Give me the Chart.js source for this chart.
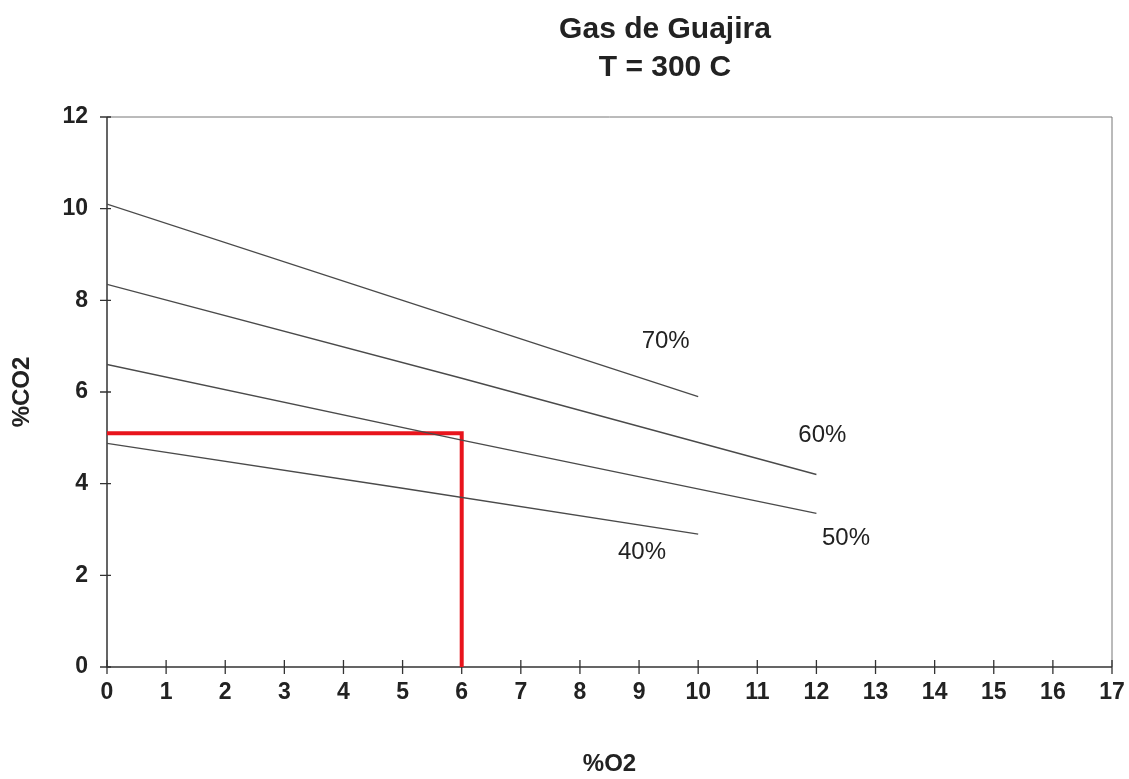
<!DOCTYPE html>
<html>
<head>
<meta charset="utf-8">
<script src="https://cdn.jsdelivr.net/npm/chart.js@4/dist/chart.umd.min.js"></script>
<style>
  body { margin: 0; background: #fff; }
  #wrap { width: 1129px; height: 779px; }
</style>
</head>
<body>
<div id="wrap"><canvas id="gasChart"></canvas></div>
<script>
// values (%O2 -> %CO2)
const o2_70 = [0, 5, 10];
const co2_70 = [10.1, 8.0, 5.9];
const o2_60 = [0, 6, 12];
const co2_60 = [8.35, 6.3, 4.2];
const o2_50 = [0, 6, 12];
const co2_50 = [6.6, 4.95, 3.35];
const o2_40 = [0, 5, 10];
const co2_40 = [4.88, 3.9, 2.9];

// red reading guide
const guideO2 = [0, 6, 6];
const guideCO2 = [5.1, 5.1, 0];

// curve labels and where they sit (data units)
const curveLabels = ['70%', '60%', '50%', '40%'];
const labelO2 = [9.45, 12.1, 12.5, 9.05];
const labelCO2 = [7.1, 5.05, 2.8, 2.5];

const xTicks = [0, 1, 2, 3, 4, 5, 6, 7, 8, 9, 10, 11, 12, 13, 14, 15, 16, 17];
const yTicks = [0, 2, 4, 6, 8, 10, 12];

const FONT = '"Liberation Sans", Arial, sans-serif';

const pts = (xs, ys) => xs.map((x, i) => ({ x: x, y: ys[i] }));

const curve = (xs, ys) => ({
  data: pts(xs, ys),
  showLine: true,
  borderColor: '#4a4a4a',
  borderWidth: 1.3,
  pointRadius: 0,
  tension: 0
});

// frame, crossing tick marks, title and curve labels
const decor = {
  id: 'decor',
  beforeDatasetsDraw(chart) {
    const { ctx, chartArea: a, scales: { x, y } } = chart;
    ctx.save();
    ctx.strokeStyle = '#777';
    ctx.lineWidth = 1;
    ctx.beginPath();
    ctx.moveTo(a.left, a.top); ctx.lineTo(a.right, a.top); ctx.lineTo(a.right, a.bottom);
    ctx.stroke();
    ctx.strokeStyle = '#333';
    ctx.lineWidth = 1.5;
    ctx.beginPath();
    ctx.moveTo(a.left, a.top); ctx.lineTo(a.left, a.bottom); ctx.lineTo(a.right, a.bottom);
    ctx.stroke();
    ctx.lineWidth = 1.3;
    ctx.beginPath();
    xTicks.forEach(v => {
      const px = x.getPixelForValue(v);
      ctx.moveTo(px, a.bottom - 7); ctx.lineTo(px, a.bottom + 7);
    });
    yTicks.forEach(v => {
      const py = y.getPixelForValue(v);
      ctx.moveTo(a.left - 7, py); ctx.lineTo(a.left + 4, py);
    });
    ctx.stroke();
    ctx.restore();
  },
  afterDraw(chart) {
    const { ctx, scales: { x, y } } = chart;
    ctx.save();
    ctx.fillStyle = '#222';
    ctx.textAlign = 'center';
    ctx.textBaseline = 'middle';
    ctx.font = 'bold 30px ' + FONT;
    ctx.fillText('Gas de Guajira', 665, 30);
    ctx.fillText('T = 300 C', 665, 68);
    ctx.font = '24px ' + FONT;
    curveLabels.forEach((t, i) => {
      ctx.fillText(t, x.getPixelForValue(labelO2[i]), y.getPixelForValue(labelCO2[i]));
    });
    ctx.restore();
  }
};

new Chart(document.getElementById('gasChart'), {
  type: 'scatter',
  data: {
    datasets: [
      curve(o2_70, co2_70),
      curve(o2_60, co2_60),
      curve(o2_50, co2_50),
      curve(o2_40, co2_40),
      {
        data: pts(guideO2, guideCO2),
        showLine: true,
        borderColor: '#e8141c',
        borderWidth: 4,
        pointRadius: 0,
        tension: 0
      }
    ]
  },
  options: {
    responsive: true,
    maintainAspectRatio: false,
    animation: false,
    layout: { padding: { top: 117, right: 17 } },
    plugins: {
      legend: { display: false },
      tooltip: { enabled: false }
    },
    scales: {
      x: {
        type: 'linear',
        min: 0, max: 17,
        grid: { display: false, drawTicks: false },
        border: { display: false },
        afterBuildTicks: s => { s.ticks = xTicks.map(v => ({ value: v })); },
        afterFit: s => { s.height = 112; s.paddingRight = 0; s.paddingLeft = 0; },
        ticks: {
          color: '#222',
          padding: 12,
          maxRotation: 0,
          autoSkip: false,
          font: { family: FONT, size: 23, weight: 'bold' }
        },
        title: {
          display: true,
          text: '%O2',
          color: '#222',
          padding: { top: 0, bottom: 0 },
          font: { family: FONT, size: 24, weight: 'bold' }
        }
      },
      y: {
        type: 'linear',
        min: 0, max: 12,
        grid: { display: false, drawTicks: false },
        border: { display: false },
        afterBuildTicks: s => { s.ticks = yTicks.map(v => ({ value: v })); },
        afterFit: s => { s.width = 107; },
        ticks: {
          color: '#222',
          padding: 19,
          autoSkip: false,
          font: { family: FONT, size: 23, weight: 'bold' }
        },
        title: {
          display: true,
          text: '%CO2',
          color: '#222',
          padding: { top: 8, bottom: 0 },
          font: { family: FONT, size: 24, weight: 'bold' }
        }
      }
    }
  },
  plugins: [decor]
});
</script>
</body>
</html>
